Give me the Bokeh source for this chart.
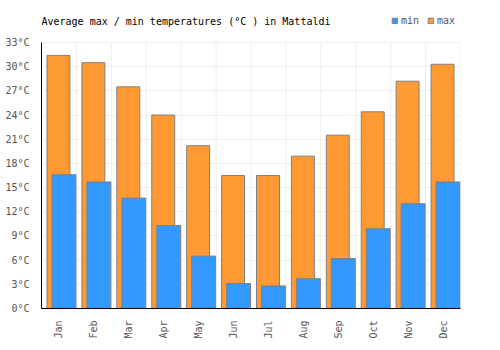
from bokeh.plotting import figure
from bokeh.models import (ColumnDataSource, FixedTicker, PrintfTickFormatter,
                          Range1d, Legend, LegendItem, Label)
from bokeh.embed import file_html
from bokeh.resources import INLINE

months = ["Jan", "Feb", "Mar", "Apr", "May", "Jun",
          "Jul", "Aug", "Sep", "Oct", "Nov", "Dec"]
max_temp = [31.4, 30.5, 27.5, 24.0, 20.2, 16.5, 16.5, 18.9, 21.5, 24.4, 28.2, 30.3]
min_temp = [16.6, 15.7, 13.7, 10.3, 6.5, 3.1, 2.8, 3.7, 6.2, 9.9, 13.0, 15.7]
y_ticks = list(range(0, 34, 3))
title_text = "Average max / min temperatures (°C ) in Mattaldi"

FONT = "DejaVu Sans Mono"
W, H = 500, 350
BL, BR, BB = 41, 40, 42          # borders (px)
PLOT_TOP = 42                    # pixel row of the top of the value axis
frame_h = H - BB
y_top = y_ticks[-1]
y_end = y_top * frame_h / (frame_h - PLOT_TOP)   # extra room above for title/legend

idx = list(range(len(months)))
src = ColumnDataSource(dict(
    xmax=[i + 0.486 for i in idx],
    xmin=[i + 0.643 for i in idx],
    tmax=max_temp,
    tmin=min_temp,
))
grid_src = ColumnDataSource(dict(
    x=list(range(len(months) + 1)),
    y0=[0] * (len(months) + 1),
    y1=[y_top] * (len(months) + 1),
))

p = figure(width=W, height=H, output_backend="svg", toolbar_location=None,
           x_range=Range1d(0, len(months)), y_range=Range1d(0, y_end),
           min_border_left=BL, min_border_right=BR,
           min_border_top=0, min_border_bottom=BB)
p.background_fill_color = "white"
p.border_fill_color = "white"
p.outline_line_color = None

# vertical grid lines between months, only up to the top tick
p.segment(x0="x", x1="x", y0="y0", y1="y1", source=grid_src,
          line_color="#eeeeee", line_width=1)
p.xgrid.grid_line_color = None
p.ygrid.grid_line_color = "#eeeeee"

r_max = p.vbar(x="xmax", top="tmax", width=0.657, bottom=0, source=src,
               fill_color="#ff9933", line_color="#808080", line_width=1)
r_min = p.vbar(x="xmin", top="tmin", width=0.686, bottom=0, source=src,
               fill_color="#3399ff", line_color="#808080", line_width=1)

# axes
p.xaxis.ticker = FixedTicker(ticks=[i + 0.5 for i in idx])
p.xaxis.major_label_overrides = {i + 0.5: m for i, m in zip(idx, months)}
p.xaxis.major_label_orientation = 1.5708
p.yaxis.ticker = FixedTicker(ticks=y_ticks)
p.yaxis.formatter = PrintfTickFormatter(format="%d°C")
p.yaxis.bounds = (0, y_top)
for ax in (p.xaxis, p.yaxis):
    ax.axis_line_color = "black"
    ax.axis_line_width = 1
    ax.major_tick_line_color = None
    ax.minor_tick_line_color = None
    ax.major_label_text_font = FONT
    ax.major_label_text_font_size = "10px"
    ax.major_label_text_color = "#555555"
p.yaxis.major_label_standoff = 6
p.xaxis.major_label_standoff = 6

# title (inside the extended frame, above the value area)
p.add_layout(Label(x=0, y=frame_h - 21, x_units="screen", y_units="screen",
                   text=title_text, text_font=FONT, text_font_size="10px",
                   text_color="black", text_baseline="middle"))

legend = Legend(items=[LegendItem(label="min", renderers=[r_min]),
                       LegendItem(label="max", renderers=[r_max])],
                orientation="horizontal", location=(350, frame_h - 26),
                glyph_width=7, glyph_height=7, label_standoff=3, spacing=6,
                padding=0, margin=0, border_line_color=None,
                background_fill_alpha=0, label_height=10,
                label_text_font=FONT, label_text_font_size="10px",
                label_text_color="#555555")
p.add_layout(legend, "center")

open("out.html", "w").write(file_html(p, INLINE))
